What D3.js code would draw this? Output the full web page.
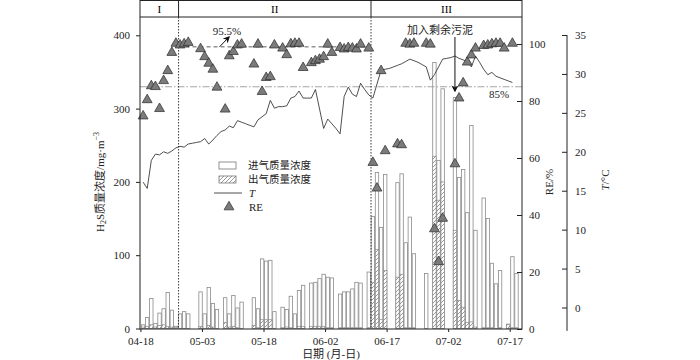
<!DOCTYPE html>
<html><head><meta charset="utf-8">
<script src="https://cdn.jsdelivr.net/npm/d3@7"></script>
<style>body{margin:0;background:#fff}</style>
</head><body>
<svg id="c" width="700" height="360"></svg>
<script>
// ---------- DATA ----------
const dateLabels = ["04-18","05-03","05-18","06-02","06-17","07-02","07-17"];
const dateTickDays = [0,15,30,45,60,75,90];
// inlet / outlet H2S (mg/m3), one value per day from 04-18 (day 0); null = no measurement
const inletValues = [
 5,15,41,7,21,27,49,25,3,20,
 23,20,null,null,50,20,56,34,26,null,
 42,20,45,28,36,null,null,42,27,95,
 92,93,23,null,29,26,44,20,52,59,
 null,62,63,68,74,70,69,null,47,50,
 50,54,63,62,null,77,153,213,138,210,
 null,null,199,211,117,152,102,null,null,75,
 null,363,229,327,null,null,315,206,217,158,
 277,134,null,178,150,89,61,79,null,6,
 98,75];
const outletValues = [
 2,3,5,2,4,5,3,2,1,0,
 0,0,null,null,3,0,4,2,0,null,
 8,2,3,1,0,null,null,4,1,12,
 12,12,0,null,1,2,1,0,3,3,
 null,3,3,3,3,1,1,null,1,1,
 1,1,1,1,null,1,63,108,12,79,
 null,null,70,74,1,1,1,null,null,0,
 null,235,175,200,null,null,134,38,29,8,
 9,2,null,1,1,1,0,1,null,5,
 1,1];
const reDays = [0,1,2,3,4,5,6,7,8,9,10,11,14,15,16,17,18,20,21,22,23,24,27,28,29,30,31,32,34,35,36,37,38,39,41,42,43,44,45,46,48,49,50,51,52,53,55,56,57,58,59,62,63,64,65,66,69,70,71,72,73,76,77,78,79,80,81,83,84,85,86,87,88,90];
const reValues = [74.7,80.4,85.3,85.0,77.3,87.1,90.6,97.0,100.2,99.6,100.0,100.5,98.3,95.5,93.2,91.1,84.8,77.1,95.8,97.3,99.6,99.9,92.9,99.9,83.3,88.2,88.5,99.6,98.5,96.2,100,100.2,100.2,91.7,93.4,94.1,94.6,95.5,99.9,97.0,98.7,98.2,98.7,98.5,98.2,99.9,98.5,58.4,49.4,90.6,62.5,64.9,64.6,100.2,99.9,100.2,100.2,99.9,35.1,23.6,38.8,57.9,81.0,86.3,93.6,96.1,98.5,99.4,99.6,100,100.2,100.2,98.5,100.2];
const tempValues = [
 16.1,15.3,18.9,19.7,19.6,20.0,19.8,20.1,20.5,20.7,
 20.6,21.0,21.1,21.2,21.3,21.7,21.0,21.5,22.1,22.6,
 22.8,23.3,23.1,24.0,23.8,23.6,23.4,23.2,24.1,24.5,
 24.9,26.6,25.6,25.8,25.8,25.9,26.9,27.1,27.8,26.9,
 26.9,26.9,28.0,25.5,23.0,24.2,23.6,23.0,22.3,27.1,
 28.3,27.4,27.1,28.8,28.0,27.3,26.9,28.7,30.5,30.6,
 30.7,30.9,31.1,31.3,31.6,31.9,31.7,31.5,31.2,30.9,
 29.2,29.9,30.9,31.9,32.0,32.1,32.3,32.0,31.8,31.6,
 30.9,32.3,31.5,30.6,29.9,30.2,29.7,29.5,29.3,29.1,
 28.9];
const leftTicks = [0,100,200,300,400];
const reTicks = [0,20,40,60,80,100];
const tTicks = [0,5,10,15,20,25,30,35];
const phaseNames = ["I","II","III"];
const phaseBounds = [-0.1, 9.3, 56.2, 93];
const reLimit = 85;        // dash-dot reference line
const phase2Level = 99;    // drawn position of the "95.5%" dashed line
const sludgeDay = 76;      // "加入剩余污泥" arrow

// ---------- LAYOUT ----------
const L=140, R=522, TOP=0.5, HB=17, B=329;
const serif = "'Liberation Serif','Times New Roman',serif";
const cjk = "'Liberation Serif','Noto Sans CJK SC',serif";
const svg = d3.select("#c");
const x = d3.scaleLinear().domain([phaseBounds[0], phaseBounds[3]]).range([L, R]);
const yV = d3.scaleLinear().domain([0, 400]).range([328.5, 35.3]);
const yRE = d3.scaleLinear().domain([0, 100]).range([329, 44]);
const yT = d3.scaleLinear().domain([0, 35]).range([307.5, 35]);
const bw = 3.4;
const bx = d => x(d) + 1;
const cx = d => x(d) + 1 + bw/2;

const defs = svg.append("defs");
const pat = defs.append("pattern").attr("id","hatch").attr("patternUnits","userSpaceOnUse")
  .attr("width",4).attr("height",4);
pat.append("rect").attr("width",4).attr("height",4).attr("fill","#fff");
pat.append("path").attr("d","M-1,1 l2,-2 M0,4 l4,-4 M3,5 l2,-2").attr("stroke","#555").attr("stroke-width",0.6);

// bars
const days = d3.range(inletValues.length);
const inl = days.filter(d => inletValues[d] != null);
svg.append("g").selectAll("rect").data(inl).join("rect")
  .attr("x", d => bx(d)).attr("width", bw)
  .attr("y", d => yV(inletValues[d])).attr("height", d => yV(0) - yV(inletValues[d]))
  .attr("fill","#fff").attr("stroke","#8a8a8a").attr("stroke-width",0.8);
const outl = days.filter(d => outletValues[d] != null && outletValues[d] > 0);
svg.append("g").selectAll("rect").data(outl).join("rect")
  .attr("x", d => bx(d)).attr("width", bw)
  .attr("y", d => yV(outletValues[d])).attr("height", d => yV(0) - yV(outletValues[d]))
  .attr("fill","url(#hatch)").attr("stroke","#8a8a8a").attr("stroke-width",0.7);

// reference lines
svg.append("line").attr("x1",L).attr("x2",R).attr("y1",yRE(reLimit)).attr("y2",yRE(reLimit))
  .attr("stroke","#9a9a9a").attr("stroke-width",0.9).attr("stroke-dasharray","7,2,1.5,2");
svg.append("line").attr("x1",x(phaseBounds[1])).attr("x2",x(phaseBounds[2]))
  .attr("y1",yRE(phase2Level)).attr("y2",yRE(phase2Level))
  .attr("stroke","#333").attr("stroke-width",0.8).attr("stroke-dasharray","4,3");

// phase dividers (dotted)
[phaseBounds[1], phaseBounds[2]].forEach(b => {
  svg.append("line").attr("x1",x(b)).attr("x2",x(b)).attr("y1",HB).attr("y2",B)
    .attr("stroke","#222").attr("stroke-width",0.9).attr("stroke-dasharray","1.5,1.5");
  svg.append("line").attr("x1",x(b)).attr("x2",x(b)).attr("y1",TOP).attr("y2",HB)
    .attr("stroke","#222").attr("stroke-width",1);
});

// temperature line
svg.append("path").datum(days.filter(d => tempValues[d] != null))
  .attr("d", d3.line().x(d => cx(d)).y(d => yT(tempValues[d])))
  .attr("fill","none").attr("stroke","#222").attr("stroke-width",0.8);

// RE triangles
const tri = d3.symbol().type(d3.symbolTriangle).size(42);
svg.append("g").selectAll("path").data(reDays.map((d,i)=>({d, v:reValues[i]}))).join("path")
  .attr("d", tri).attr("transform", p => `translate(${cx(p.d)},${yRE(p.v)})`)
  .attr("fill","#7b7b7b").attr("stroke","#2a2a2a").attr("stroke-width",0.7);

// frame + header
svg.append("rect").attr("x",L).attr("y",TOP).attr("width",R-L).attr("height",B-TOP)
  .attr("fill","none").attr("stroke","#222").attr("stroke-width",1);
svg.append("line").attr("x1",L).attr("x2",R).attr("y1",HB).attr("y2",HB).attr("stroke","#222").attr("stroke-width",1);
phaseNames.forEach((n,i) => {
  svg.append("text").attr("x",(x(phaseBounds[i])+x(phaseBounds[i+1]))/2).attr("y",13)
    .attr("text-anchor","middle").attr("font-family",serif).attr("font-size",11).text(n);
});

// axes
function styleAxis(g){ g.select(".domain").remove(); g.selectAll("line").attr("stroke","#222");
  g.selectAll("text").attr("font-family",serif).attr("font-size",11).attr("fill","#222"); }
svg.append("g").attr("transform",`translate(${L},0)`)
  .call(d3.axisLeft(yV).tickValues(leftTicks).tickSize(4).tickPadding(6)).call(styleAxis);
svg.append("g").attr("transform",`translate(${R},0)`)
  .call(d3.axisRight(yRE).tickValues(reTicks).tickSize(-5).tickPadding(7)).call(styleAxis);
svg.append("g").attr("transform",`translate(0,${B})`)
  .call(d3.axisBottom(x).tickValues(dateTickDays).tickFormat((d,i)=>dateLabels[i]).tickSize(3).tickPadding(5)).call(styleAxis);
const TX = 567;
const tg = svg.append("g").attr("transform",`translate(${TX},0)`)
  .call(d3.axisLeft(yT).tickValues(tTicks).tickSize(5)).call(styleAxis);
tg.selectAll("text").attr("x",8).attr("text-anchor","start");
tg.append("line").attr("x1",0).attr("x2",0).attr("y1",yT(-3)).attr("y2",yT(35)).attr("stroke","#222");

// axis titles
const lt = svg.append("text").attr("transform","translate(104,182) rotate(-90)")
  .attr("text-anchor","middle").attr("font-family",cjk).attr("font-size",11).attr("fill","#222");
lt.append("tspan").text("H");
lt.append("tspan").attr("font-size",8).attr("dy",2).text("2");
lt.append("tspan").attr("dy",-2).text("S质量浓度/mg·m");
lt.append("tspan").attr("font-size",8).attr("dy",-5).text("−3");
svg.append("text").attr("transform","translate(553,182) rotate(-90)").attr("text-anchor","middle")
  .attr("font-family",serif).attr("font-size",11).attr("fill","#222").text("RE/%");
const tt = svg.append("text").attr("transform","translate(609,180) rotate(-90)").attr("text-anchor","middle")
  .attr("font-family",serif).attr("font-size",11).attr("fill","#222");
tt.append("tspan").attr("font-style","italic").text("T");
tt.append("tspan").text("/°C");
svg.append("text").attr("x",331).attr("y",358).attr("text-anchor","middle")
  .attr("font-family",cjk).attr("font-size",11).attr("fill","#222").text("日期 (月-日)");

// annotations
svg.append("defs").append("marker").attr("id","ah").attr("viewBox","0 0 10 10").attr("refX",8).attr("refY",5)
  .attr("markerWidth",7).attr("markerHeight",7).attr("orient","auto")
  .append("path").attr("d","M0,0 L10,5 L0,10 L3,5 Z").attr("fill","#111");
svg.append("line").attr("x1",219.5).attr("y1",yRE(phase2Level)).attr("x2",229).attr("y2",37)
  .attr("stroke","#111").attr("stroke-width",1).attr("marker-end","url(#ah)");
svg.append("text").attr("x",227).attr("y",34.5).attr("text-anchor","middle")
  .attr("font-family",serif).attr("font-size",11).attr("fill","#222").text("95.5%");
svg.append("text").attr("x",440).attr("y",34).attr("text-anchor","middle")
  .attr("font-family",cjk).attr("font-size",11).attr("fill","#222").text("加入剩余污泥");
svg.append("line").attr("x1",cx(sludgeDay)).attr("x2",cx(sludgeDay)).attr("y1",37).attr("y2",91)
  .attr("stroke","#111").attr("stroke-width",1).attr("marker-end","url(#ah)");
svg.append("text").attr("x",499).attr("y",98).attr("text-anchor","middle")
  .attr("font-family",serif).attr("font-size",11).attr("fill","#222").text("85%");

// legend
const lg = svg.append("g").attr("font-family",cjk).attr("font-size",10.5).attr("fill","#222");
lg.append("rect").attr("x",219).attr("y",162).attr("width",17).attr("height",7).attr("fill","#fff").attr("stroke","#777").attr("stroke-width",0.8);
lg.append("text").attr("x",248).attr("y",169).text("进气质量浓度");
lg.append("rect").attr("x",219).attr("y",176).attr("width",17).attr("height",7).attr("fill","url(#hatch)").attr("stroke","#777").attr("stroke-width",0.8);
lg.append("text").attr("x",248).attr("y",183).text("出气质量浓度");
lg.append("line").attr("x1",214).attr("x2",242).attr("y1",193).attr("y2",193).attr("stroke","#222").attr("stroke-width",0.8);
lg.append("text").attr("x",249).attr("y",197).attr("font-family",serif).attr("font-style","italic").attr("font-size",11).text("T");
lg.append("path").attr("d",tri).attr("transform","translate(229,207)").attr("fill","#7b7b7b").attr("stroke","#2a2a2a").attr("stroke-width",0.7);
lg.append("text").attr("x",249).attr("y",211).attr("font-family",serif).attr("font-size",11).text("RE");
</script>
</body></html>
